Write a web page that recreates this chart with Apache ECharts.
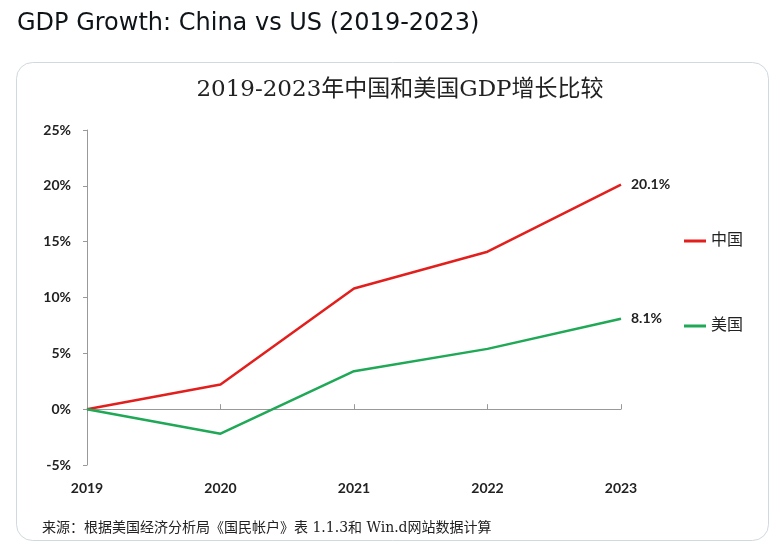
<!DOCTYPE html>
<html><head><meta charset="utf-8">
<script src="https://cdn.jsdelivr.net/npm/echarts@6/dist/echarts.min.js"></script>
<style>html,body{margin:0;padding:0;background:#fff}#c{width:780px;height:547px}</style>
</head><body><div id="c"></div>
<script>
const years = ['2019','2020','2021','2022','2023'];
const china = [0, 2.2, 10.8, 14.1, 20.1];
const us = [0, -2.2, 3.4, 5.4, 8.1];
const yTicks = {min: -5, max: 25, interval: 5};

const chart = echarts.init(document.getElementById('c'), null, {renderer: 'canvas'});
const latin = 'Lato, "Open Sans", sans-serif';
const cjk = '"DejaVu Serif", "Noto Sans CJK SC", serif';
chart.setOption({
  backgroundColor: '#fff',
  animation: false,
  graphic: [{
    type: 'rect', shape: {x: 16.5, y: 62.5, width: 752, height: 478, r: 16},
    style: {fill: 'none', stroke: '#cfd9de', lineWidth: 1}, z: -1
  }],
  title: [{
    text: 'GDP Growth: China vs US (2019-2023)', left: 12, top: 7,
    textStyle: {fontFamily: '"DejaVu Sans", sans-serif', fontSize: 24, fontWeight: 'normal', color: '#0f1419'}
  }, {
    text: '2019-2023年中国和美国GDP增长比较', left: 395, textAlign: 'center', top: 74,
    textStyle: {fontFamily: cjk, fontSize: 23, fontWeight: 'normal', color: '#222'}
  }, {
    text: '来源：根据美国经济分析局《国民帐户》表 1.1.3和 Win.d网站数据计算', left: 37, top: 516,
    textStyle: {fontFamily: cjk, fontSize: 14, fontWeight: 'normal', color: '#222'}
  }],
  legend: [{
    data: ['中国'], orient: 'vertical', left: 679, top: 228, icon: 'rect', itemWidth: 22, itemHeight: 3, itemGap: 4,
    textStyle: {fontFamily: cjk, fontSize: 16, color: '#222'}
  }, {
    data: ['美国'], orient: 'vertical', left: 679, top: 313, icon: 'rect', itemWidth: 22, itemHeight: 3, itemGap: 4,
    textStyle: {fontFamily: cjk, fontSize: 16, color: '#222'}
  }],
  grid: {left: 87, right: 159, top: 130, bottom: 82, containLabel: false},
  xAxis: [{
    type: 'category', data: years, boundaryGap: false, position: 'bottom',
    axisLine: {show: false, onZero: false}, axisTick: {show: false},
    axisLabel: {margin: 16, fontFamily: latin, fontWeight: 'bold', fontSize: 14, color: '#222'}
  }, {
    type: 'category', data: years, boundaryGap: false, position: 'bottom',
    axisLine: {show: true, onZero: true, lineStyle: {color: '#999', width: 1}},
    axisTick: {show: true, inside: true, length: 5, lineStyle: {color: '#999'}},
    axisLabel: {show: false}
  }],
  yAxis: {
    type: 'value', min: yTicks.min, max: yTicks.max, interval: yTicks.interval,
    axisLine: {show: true, lineStyle: {color: '#999', width: 1}},
    axisTick: {show: true, length: 4, lineStyle: {color: '#999'}},
    splitLine: {show: false},
    axisLabel: {margin: 16, formatter: '{value}%', fontFamily: latin, fontWeight: 'bold', fontSize: 14, color: '#222'}
  },
  series: [{
    name: '中国', type: 'line', data: china, symbol: 'none', color: '#e21f1c',
    lineStyle: {width: 2.5, color: '#e21f1c'},
    endLabel: {show: true, distance: 10, formatter: p => p.value.toFixed(1) + '%', fontFamily: latin, fontWeight: 'bold', fontSize: 14, color: '#222'}
  }, {
    name: '美国', type: 'line', data: us, symbol: 'none', color: '#1fa855',
    lineStyle: {width: 2.5, color: '#1fa855'},
    endLabel: {show: true, distance: 10, formatter: p => p.value.toFixed(1) + '%', fontFamily: latin, fontWeight: 'bold', fontSize: 14, color: '#222'}
  }]
});
</script></body></html>
